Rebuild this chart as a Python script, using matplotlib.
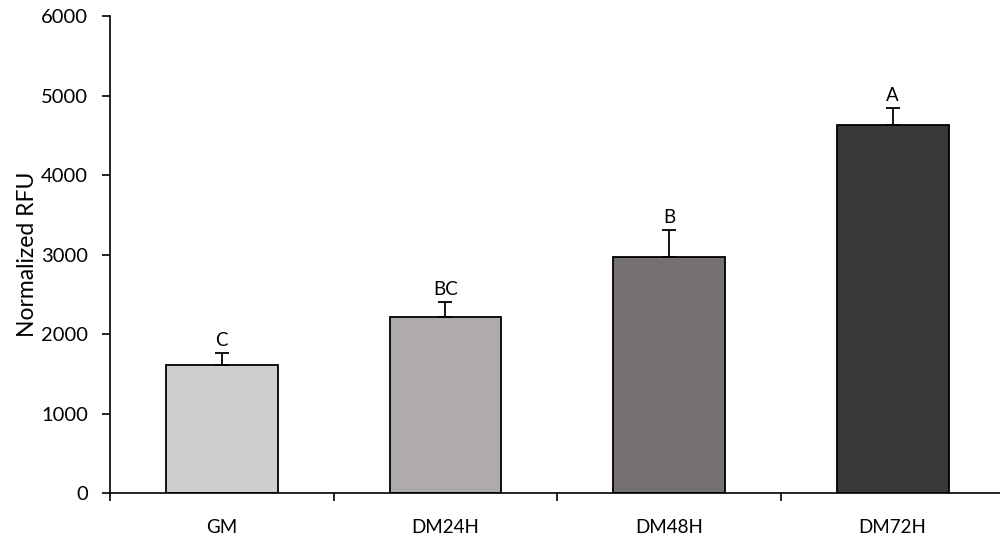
import matplotlib
matplotlib.use('Agg')
import matplotlib.pyplot as plt
from matplotlib.ticker import FixedLocator

plt.rcParams['font.family'] = ['Lato', 'DejaVu Sans']

groups = ['GM', 'DM24H', 'DM48H', 'DM72H']
rfu_mean = [1614, 2215, 2965, 4630]
rfu_err = [143, 190, 343, 210]
letters = ['C', 'BC', 'B', 'A']
bar_colors = ['#d0cece', '#afabab', '#767171', '#3b3838']

fig = plt.figure(figsize=(10, 5.39), dpi=100)
ax = fig.add_axes([0.11, 0.0853, 0.89, 0.8847])

x = list(range(len(groups)))
ax.bar(x, rfu_mean, width=0.5, color=bar_colors, edgecolor='black', linewidth=1.3,
       yerr=[[0] * len(groups), rfu_err], capsize=5,
       error_kw=dict(elinewidth=1.3, capthick=1.3, ecolor='black'), zorder=2)

for xi, m, e, lab in zip(x, rfu_mean, rfu_err, letters):
    ax.annotate(lab, (xi, m + e), xytext=(0, 3), textcoords='offset points',
                ha='center', va='bottom', fontsize=13.5)

ax.set_xlim(-0.5, 3.48)
ax.set_ylim(0, 6000)
ax.set_yticks(range(0, 6001, 1000))
ax.set_xticks(x)
ax.set_xticklabels(groups)
ax.xaxis.set_minor_locator(FixedLocator([-0.5, 0.5, 1.5, 2.5]))
ax.tick_params(axis='x', which='major', length=0, pad=19, labelsize=13.5)
ax.tick_params(axis='x', which='minor', length=6, width=1.2, direction='out')
ax.tick_params(axis='y', length=6, width=1.2, labelsize=14.5, pad=10)
ax.set_ylabel('Normalized RFU', fontsize=16.5, labelpad=2)

for side in ['top', 'right']:
    ax.spines[side].set_visible(False)
for side in ['left', 'bottom']:
    ax.spines[side].set_linewidth(1.2)

fig.savefig('out.png', dpi=100)
